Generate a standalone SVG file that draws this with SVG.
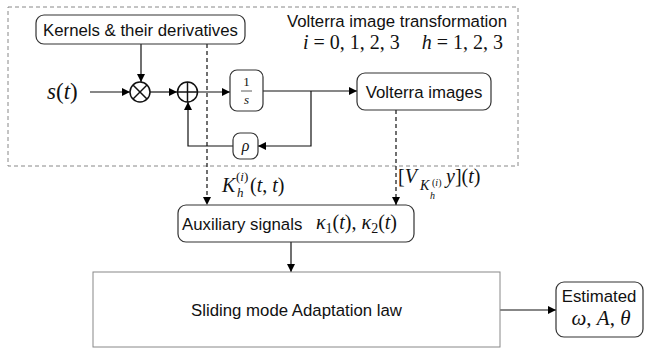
<svg xmlns="http://www.w3.org/2000/svg" width="645" height="349" viewBox="0 0 645 349">
<defs>
<marker id="ah" viewBox="0 0 10 10" refX="10" refY="5" markerWidth="8" markerHeight="8" markerUnits="userSpaceOnUse" orient="auto">
<path d="M0,0 L10,5 L0,10 z" fill="#000"/>
</marker>
</defs>
<style>
.box{fill:#fff;stroke:#333;stroke-width:1.2}
.sans{font-family:"Liberation Sans",Arial,sans-serif;font-size:16.8px;fill:#111}
.math{font-family:"Liberation Serif","Times New Roman",serif;font-style:italic;font-size:20px;fill:#111}
.up{font-style:normal}
.ln{fill:none;stroke:#111;stroke-width:1.2}
.dash{fill:none;stroke:#111;stroke-width:1.2;stroke-dasharray:4,3}
</style>
<rect id="volterra-region" x="8" y="7" width="510" height="159" fill="none" stroke="#888" stroke-width="1" stroke-dasharray="4,3"/>
<text class="sans" x="507" y="27" text-anchor="end">Volterra image transformation</text>
<text class="math" x="503" y="49" text-anchor="end">i <tspan class="up">= 0, 1, 2, 3</tspan><tspan dx="22">h</tspan> <tspan class="up">= 1, 2, 3</tspan></text>

<g id="connectors">
<line class="ln" x1="141" y1="44" x2="141" y2="82" marker-end="url(#ah)"/>
<line class="ln" x1="90" y1="92" x2="130" y2="92" marker-end="url(#ah)"/>
<line class="ln" x1="150" y1="92" x2="177" y2="92" marker-end="url(#ah)"/>
<line class="ln" x1="197" y1="92" x2="230" y2="92" marker-end="url(#ah)"/>
<line class="ln" x1="263" y1="91" x2="357" y2="91" marker-end="url(#ah)"/>
<polyline class="ln" points="311,91 311,146 258,146" marker-end="url(#ah)"/>
<polyline class="ln" points="233,146 188,146 188,102" marker-end="url(#ah)"/>
<line class="dash" x1="207" y1="44" x2="207" y2="205" marker-end="url(#ah)"/>
<line class="dash" x1="396" y1="110" x2="396" y2="205" marker-end="url(#ah)"/>
<line class="ln" x1="291" y1="242" x2="291" y2="272" marker-end="url(#ah)"/>
<line class="ln" x1="500" y1="310" x2="556" y2="310" marker-end="url(#ah)"/>
</g>

<g id="kernels">
<rect class="box" x="36" y="15" width="209" height="29" rx="8"/>
<text class="sans" x="140.5" y="35.5" text-anchor="middle">Kernels &amp; their derivatives</text>
</g>
<g id="input">
<text class="math" x="47" y="99" style="font-size:23px">s<tspan class="up">(</tspan>t<tspan class="up">)</tspan></text>
</g>
<g id="multiply">
<circle cx="140" cy="92" r="10" fill="#fff" stroke="#111" stroke-width="1.5"/>
<line x1="133" y1="85" x2="147" y2="99" stroke="#111" stroke-width="1.5"/>
<line x1="147" y1="85" x2="133" y2="99" stroke="#111" stroke-width="1.5"/>
</g>
<g id="sum">
<circle cx="187.5" cy="92" r="10" fill="#fff" stroke="#111" stroke-width="1.5"/>
<line x1="177.5" y1="92" x2="197.5" y2="92" stroke="#111" stroke-width="1.5"/>
<line x1="187.5" y1="82" x2="187.5" y2="102" stroke="#111" stroke-width="1.5"/>
</g>
<g id="integrator">
<rect class="box" x="230" y="70" width="33" height="41" rx="7"/>
<text x="246.5" y="86" text-anchor="middle" font-family="Liberation Serif,serif" font-size="13" fill="#111">1</text>
<line x1="241" y1="91" x2="252" y2="91" stroke="#333" stroke-width="0.8"/>
<text x="246.5" y="104" text-anchor="middle" font-family="Liberation Serif,serif" font-style="italic" font-size="13" fill="#111">s</text>
</g>
<g id="rho">
<rect class="box" x="233" y="133" width="25" height="26" rx="7"/>
<text class="math" x="245.5" y="151" text-anchor="middle" style="font-size:16px">ρ</text>
</g>
<g id="volterra-images">
<rect class="box" x="357" y="73" width="134" height="37" rx="8"/>
<text class="sans" x="424" y="97.5" text-anchor="middle">Volterra images</text>
</g>
<g id="label-k">
<text class="math" x="222" y="192">K</text>
<text class="math" x="237" y="197" style="font-size:13px">h</text>
<text class="math" x="236" y="181" style="font-size:13px"><tspan class="up">(</tspan>i<tspan class="up">)</tspan></text>
<text class="math" x="250" y="192"><tspan class="up">(</tspan>t<tspan class="up">, </tspan>t<tspan class="up">)</tspan></text>
</g>
<g id="label-v">
<text class="math" x="398" y="183"><tspan class="up">[</tspan>V</text>
<text class="math" x="420" y="190" style="font-size:14px">K</text>
<text class="math" x="430" y="199" style="font-size:10px">h</text>
<text class="math" x="432" y="186" style="font-size:10px"><tspan class="up">(</tspan>i<tspan class="up">)</tspan></text>
<text class="math" x="446" y="183">y<tspan class="up">](</tspan>t<tspan class="up">)</tspan></text>
</g>
<g id="auxiliary">
<rect class="box" x="178" y="205" width="236" height="37" rx="8"/>
<text class="sans" x="182" y="229.5">Auxiliary signals</text>
<text class="math" x="316" y="229">κ<tspan style="font-size:14px" class="up" dy="4">1</tspan><tspan class="up" dy="-4">(</tspan>t<tspan class="up">), </tspan>κ<tspan style="font-size:14px" class="up" dy="4">2</tspan><tspan class="up" dy="-4">(</tspan>t<tspan class="up">)</tspan></text>
</g>
<g id="sliding">
<rect x="93" y="272" width="407" height="75" fill="#fff" stroke="#888" stroke-width="1"/>
<text class="sans" x="296.5" y="316" text-anchor="middle">Sliding mode Adaptation law</text>
</g>
<g id="estimated">
<rect class="box" x="556" y="282" width="87" height="55" rx="8"/>
<text class="sans" x="599" y="302" text-anchor="middle">Estimated</text>
<text class="math" x="601" y="325" text-anchor="middle" style="font-size:21px">ω<tspan class="up">, </tspan>A<tspan class="up">, </tspan>θ</text>
</g>
</svg>
